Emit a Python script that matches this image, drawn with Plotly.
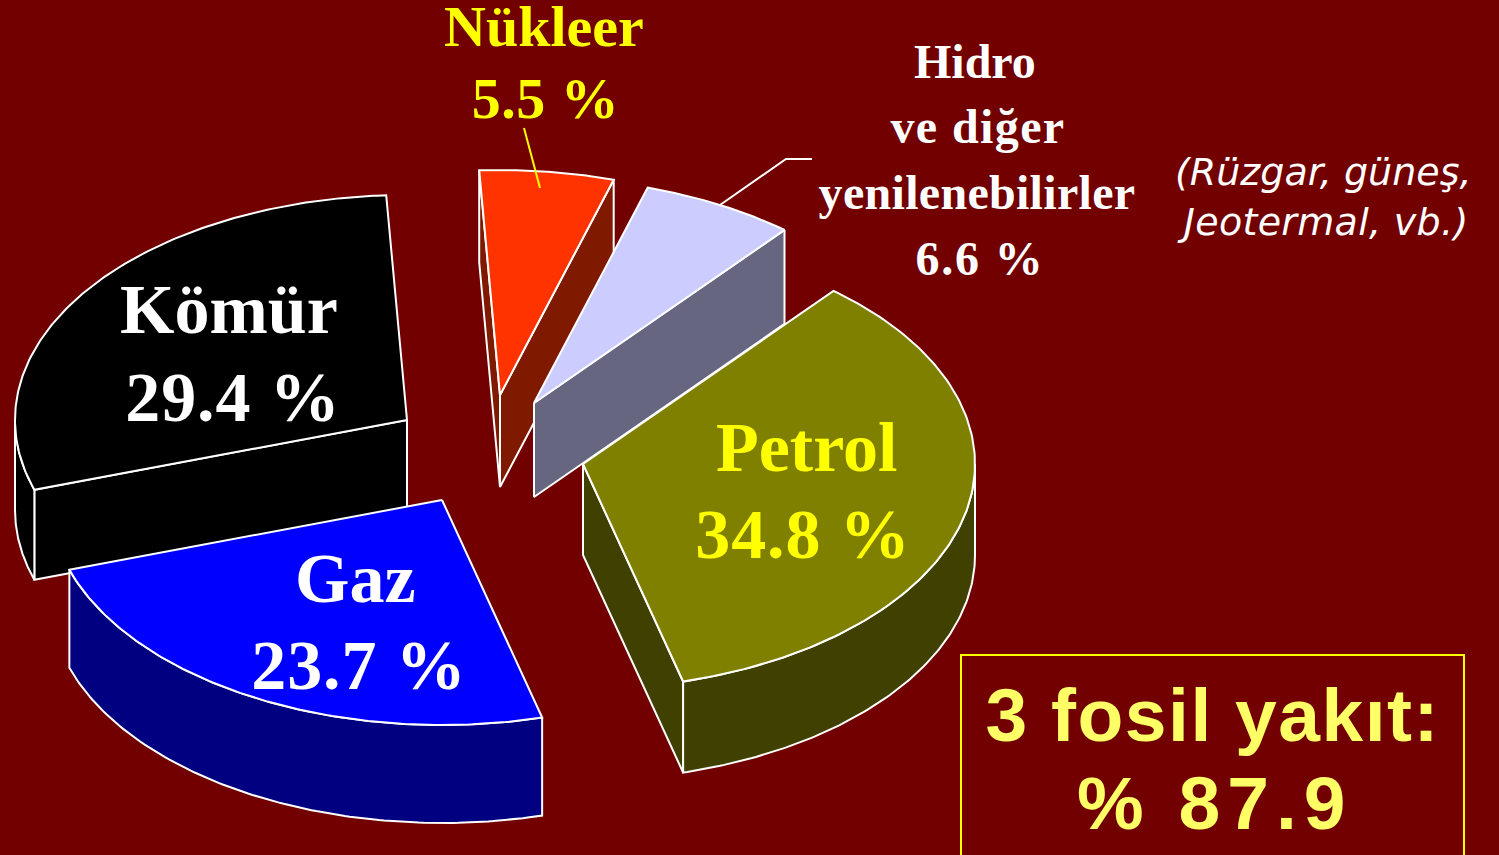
import json
import numpy as np
import plotly.graph_objects as go

# ---- data -------------------------------------------------------------
categories = ["Gaz", "Kömür", "Nükleer", "Hidro ve diğer yenilenebilirler", "Petrol"]
values = [23.7, 29.4, 5.5, 6.6, 34.8]
value_labels = ["23.7 %", "29.4 %", "5.5 %", "6.6 %", "34.8 %"]
fossil_total = "% 87.9"

# ---- styling / layout --------------------------------------------------
BG = "#720000"
top_colors = ["#0000FF", "#000000", "#FF3300", "#CCCCFF", "#808000"]
side_colors = ["#000080", "#000000", "#7F1900", "#666680", "#404000"]
apexes = [(442, 500), (407, 420), (500, 395), (534, 403), (583, 464)]
depths = [98, 90, 92, 94, 91]
draw_order = [2, 3, 1, 0, 4]
RX, RY, START = 392, 225, 75.8
# small per-edge perspective correction of the projected disc, in degrees
edge_nudge = [-0.6, 0.8, 0.0, 0.1, -0.8, -0.6]

fig = go.Figure()


def poly(xs, ys, color):
    fig.add_trace(go.Scatter(
        x=list(xs), y=list(ys), mode="lines", fill="toself", fillcolor=color,
        line=dict(color="white", width=2), hoverinfo="skip", showlegend=False))


def edge(apex, t):
    r = np.radians(t)
    return apex[0] + RX * np.cos(r), apex[1] + RY * np.sin(r)


bounds = START + np.concatenate([[0], np.cumsum(values)]) * 3.6 + np.array(edge_nudge)

for i in draw_order:
    t0, t1 = bounds[i], bounds[i + 1]
    a, d = apexes[i], depths[i]
    # cut faces that turn towards the viewer
    for t, show in ((t0, np.cos(np.radians(t0)) < 0), (t1, np.cos(np.radians(t1)) > 0)):
        if show:
            ex, ey = edge(a, t)
            poly([a[0], ex, ex, a[0], a[0]], [a[1], ey, ey + d, a[1] + d, a[1]], side_colors[i])
    # outer wall: the part of the rim on the near side of the disc
    for k in (0, 1):
        lo, hi = max(t0, 360 * k), min(t1, 180 + 360 * k)
        if hi > lo:
            ts = np.linspace(lo, hi, 120)
            xs, ys = edge(a, ts)
            poly(np.r_[xs, xs[::-1], xs[0]], np.r_[ys, ys[::-1] + d, ys[0]], side_colors[i])
    # top face
    ts = np.linspace(t0, t1, 160)
    xs, ys = edge(a, ts)
    poly(np.r_[a[0], xs, a[0]], np.r_[a[1], ys, a[1]], top_colors[i])

serif = "Liberation Serif"
texts = [
    ("Kömür", 229, 309, 70, "white", serif, True, 0),
    (value_labels[1], 233, 397, 70, "white", serif, True, 0.9),
    ("Gaz", 355, 578, 70, "white", serif, True, 0),
    (value_labels[0], 359, 665, 70, "white", serif, True, 0.9),
    ("Petrol", 806, 447, 70, "#FFFF00", serif, True, 0),
    (value_labels[4], 803, 534, 70, "#FFFF00", serif, True, 0.9),
    ("Nükleer", 544, 26, 58, "#FFFF00", serif, True, 0),
    (value_labels[2], 545, 98, 58, "#FFFF00", serif, True, 0.5),
    ("Hidro", 975, 61, 48, "white", serif, True, 0),
    ("ve diğer", 978, 126, 48, "white", serif, True, 1.4),
    ("yenilenebilirler", 977, 192, 48, "white", serif, True, 0.3),
    (value_labels[3], 980, 258, 48, "white", serif, True, 1.8),
    ("<i>(Rüzgar, güneş,</i>", 1323, 172, 38, "white", "DejaVu Sans", False, 0),
    ("<i>Jeotermal, vb.)</i>", 1322, 222, 38, "white", "DejaVu Sans", False, 0.3),
    ("3 fosil yakıt:", 1212, 715, 75, "#FFFF66", "Liberation Sans", True, 1.5),
    (fossil_total, 1215, 803, 75, "#FFFF66", "Liberation Sans", True, 7),
]
annotations = [
    dict(x=x, y=y, xref="x", yref="y", text=f"<b>{t}</b>" if b else t, showarrow=False,
         xanchor="center", yanchor="middle",
         font=dict(family=fam, size=s, color=c))
    for t, x, y, s, c, fam, b, sp in texts
]
spacing = [sp for *_, sp in texts]

shapes = [
    dict(type="line", xref="x", yref="y", x0=524, y0=128, x1=540, y1=188,
         line=dict(color="#FFFF00", width=2)),
    dict(type="path", xref="x", yref="y", path="M 812 159 L 786 159 L 720 205",
         line=dict(color="white", width=2)),
    dict(type="rect", xref="x", yref="y", x0=961, y0=655, x1=1464, y1=870,
         line=dict(color="#FFFF00", width=2)),
]

fig.update_layout(
    width=1499, height=855, margin=dict(l=0, r=0, t=0, b=0),
    paper_bgcolor=BG, plot_bgcolor=BG, showlegend=False,
    xaxis=dict(range=[0, 1499], visible=False, fixedrange=True),
    yaxis=dict(range=[855, 0], visible=False, fixedrange=True),
    annotations=annotations, shapes=shapes,
)
post = (
    "document.body.style.margin='0';document.body.style.background='#720000';"
    "document.body.style.overflow='hidden';"
    "var sp=" + json.dumps(spacing) + ";"
    "document.querySelectorAll('.annotation-text').forEach(function(e,i){"
    "e.style.letterSpacing=sp[i]+'px';});"
)
fig.write_html("out.html", config=dict(displayModeBar=False), post_script=post)
